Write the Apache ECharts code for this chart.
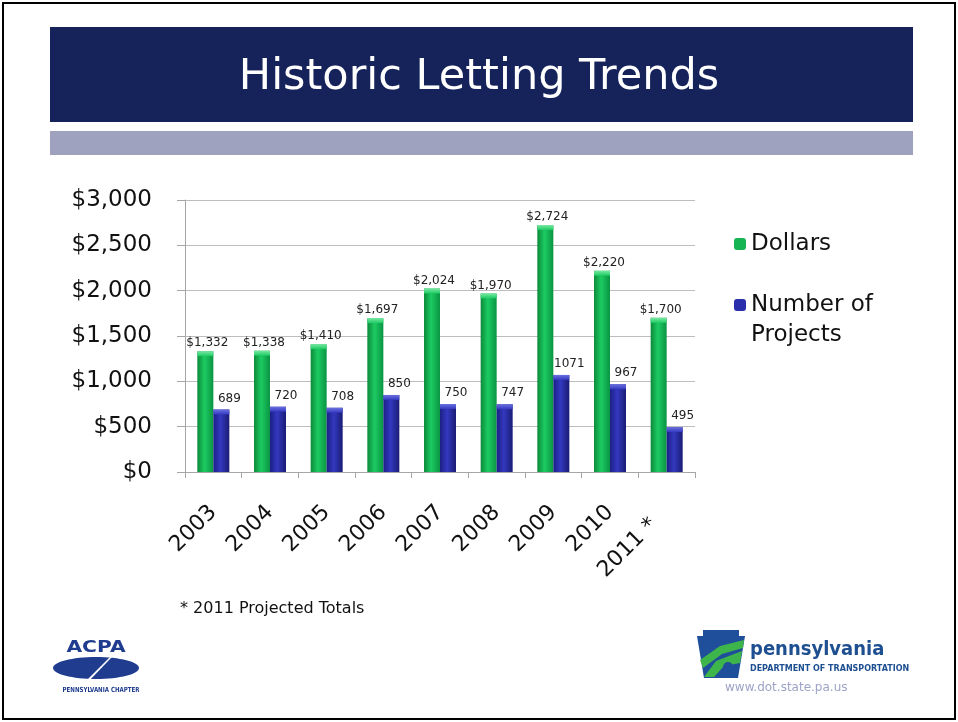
<!DOCTYPE html>
<html>
<head>
<meta charset="utf-8">
<script src="https://cdn.jsdelivr.net/npm/echarts@6/dist/echarts.min.js"></script>
<style>
  html, body { margin: 0; padding: 0; background: #fff; }
  #echart { width: 958px; height: 722px; }
</style>
</head>
<body>
<div id="echart"></div>
<script>
// data
var years = ['2003', '2004', '2005', '2006', '2007', '2008', '2009', '2010', '2011 *'];
var dollars = [1332, 1338, 1410, 1697, 2024, 1970, 2724, 2220, 1700];
var projects = [689, 720, 708, 850, 750, 747, 1071, 967, 495];
var yTicks = [0, 500, 1000, 1500, 2000, 2500, 3000];

var FONT = 'DejaVu Sans';

function money(v) {
    return '$' + String(v).replace(/\B(?=(\d{3})+(?!\d))/g, ',');
}

// cylinder look: dark edges, light middle
function shade(edgeL, mid, edgeR) {
    return new echarts.graphic.LinearGradient(0, 0, 1, 0, [
        { offset: 0, color: edgeL },
        { offset: 0.45, color: mid },
        { offset: 1, color: edgeR }
    ]);
}

// light bevel on top of each bar
function cap(name, values, dx, light, base) {
    return {
        name: name, type: 'pictorialBar', data: values,
        symbol: 'rect', symbolSize: [16, 5], symbolPosition: 'end',
        symbolOffset: [dx, 0], z: 3, silent: true,
        itemStyle: {
            color: new echarts.graphic.LinearGradient(0, 0, 0, 1, [
                { offset: 0, color: light }, { offset: 1, color: base }
            ])
        }
    };
}

var myChart = echarts.init(document.getElementById('echart'));

var option = {
    animation: false,
    textStyle: { fontFamily: FONT },
    grid: { left: 185, top: 200, width: 510, height: 272 },
    legend: [
        {
            orient: 'vertical', left: 734, top: 229, padding: 0,
            itemWidth: 12, itemHeight: 12, selectedMode: false,
            data: [{ name: 'Dollars', itemStyle: { color: '#14b552' } }],
            textStyle: { fontFamily: FONT, fontSize: 23, color: '#111', lineHeight: 30 }
        },
        {
            // empty first line keeps the marker level with "Number of"
            orient: 'vertical', left: 734, top: 260, padding: 0,
            itemWidth: 12, itemHeight: 12, selectedMode: false,
            data: [{ name: 'Number of Projects', itemStyle: { color: '#2a2eaa' } }],
            formatter: function () { return ' \nNumber of\nProjects'; },
            textStyle: { fontFamily: FONT, fontSize: 23, color: '#111', lineHeight: 30 }
        }
    ],
    xAxis: {
        type: 'category',
        data: years,
        axisLine: { lineStyle: { color: '#a6a6a6' } },
        axisTick: { show: true, length: 6, lineStyle: { color: '#a6a6a6' } },
        axisLabel: {
            rotate: 45, fontSize: 22, color: '#111', margin: 37, fontFamily: FONT,
            formatter: function (v) { return v.indexOf('*') > 0 ? '{p|' + v + '}' : v; },
            rich: { p: { fontSize: 22, color: '#111', fontFamily: FONT, padding: [0, 18, 0, 0] } }
        }
    },
    yAxis: {
        type: 'value',
        min: yTicks[0], max: yTicks[yTicks.length - 1], interval: 500,
        axisLine: { show: true, lineStyle: { color: '#a6a6a6' } },
        axisTick: { show: true, inside: false, length: 8, lineStyle: { color: '#a6a6a6' } },
        splitLine: { lineStyle: { color: '#bdbdbd' } },
        axisLabel: { fontSize: 23, color: '#111', margin: 33, fontFamily: FONT, formatter: money }
    },
    series: [
        {
            name: 'Dollars', type: 'bar', data: dollars,
            barWidth: 16, barGap: '0%',
            itemStyle: { color: shade('#0c8a3a', '#1ccb62', '#0a9443') },
            label: {
                show: true, position: 'top', distance: 2, offset: [2, 0],
                fontSize: 12, color: '#222', fontFamily: FONT,
                formatter: function (p) { return money(p.value); }
            }
        },
        {
            name: 'Number of Projects', type: 'bar', data: projects,
            barWidth: 16,
            itemStyle: { color: shade('#1c1f85', '#3338bf', '#1a1c74') },
            label: {
                show: true, position: 'top', distance: 5, offset: [8, 0],
                fontSize: 12, color: '#222', fontFamily: FONT
            }
        },
        cap('dollarsCap', dollars, -8, '#7ae8a4', '#1ccb62'),
        cap('projectsCap', projects, 8, '#6c71e0', '#3338bf')
    ],
    graphic: [
        // slide frame
        { type: 'rect', z: -10, shape: { x: 3, y: 3, width: 952, height: 716 },
          style: { fill: 'none', stroke: '#000', lineWidth: 2 } },
        // title banner
        { type: 'rect', z: -5, shape: { x: 50, y: 27, width: 863, height: 95 }, style: { fill: '#15235a' } },
        { type: 'text', left: 'center', top: 56, z: 5,
          style: { text: 'Historic Letting Trends', fill: '#fff', font: '43px "DejaVu Sans"' } },
        { type: 'rect', z: -5, shape: { x: 50, y: 131, width: 863, height: 24 }, style: { fill: '#9fa2bf' } },
        // footnote
        { type: 'text', x: 180, y: 601,
          style: { text: '* 2011 Projected Totals', fill: '#111', font: '16px "DejaVu Sans"' } },
        // ACPA logo
        { type: 'text', x: 96, y: 648, scaleX: 1.35,
          style: { text: 'ACPA', fill: '#1f3c8f', font: 'bold 15px "DejaVu Sans"', textAlign: 'center', textVerticalAlign: 'middle' } },
        { type: 'ellipse', shape: { cx: 96, cy: 668, rx: 43, ry: 11 }, style: { fill: '#1f3c8f' } },
        { type: 'polygon', shape: { points: [[83, 684], [86, 684], [112, 657], [110, 657]] }, style: { fill: '#fff' } },
        { type: 'text', x: 101, y: 690, scaleX: 0.87,
          style: { text: 'PENNSYLVANIA CHAPTER', fill: '#1f3c8f', font: 'bold 7px "DejaVu Sans Condensed"', textAlign: 'center', textVerticalAlign: 'middle' } },
        // PennDOT logo
        { type: 'polygon', shape: { points: [[697, 636], [703, 636], [703, 630], [739, 630], [739, 636], [745, 636], [738, 678], [704, 678]] },
          style: { fill: '#1f4e9b' } },
        { type: 'polygon', shape: { points: [[700, 660], [720, 646], [744, 640], [743, 648], [722, 654], [703, 668]] },
          style: { fill: '#3db54a' } },
        { type: 'polygon', shape: { points: [[704, 677], [716, 661], [742, 651], [740, 663], [724, 666], [714, 677]] },
          style: { fill: '#3db54a' } },
        { type: 'circle', shape: { cx: 728, cy: 667, r: 5 }, style: { fill: '#1f4e9b' } },
        { type: 'text', x: 750, y: 640,
          style: { text: 'pennsylvania', fill: '#1d4f91', font: 'bold 20px "DejaVu Sans Condensed"' } },
        { type: 'text', x: 750, y: 665,
          style: { text: 'DEPARTMENT OF TRANSPORTATION', fill: '#1d4f91', font: 'bold 8px "DejaVu Sans"' } },
        { type: 'text', x: 725, y: 682,
          style: { text: 'www.dot.state.pa.us', fill: '#9da3c7', font: '12px "DejaVu Sans"' } }
    ]
};

myChart.setOption(option);
</script>
</body>
</html>
